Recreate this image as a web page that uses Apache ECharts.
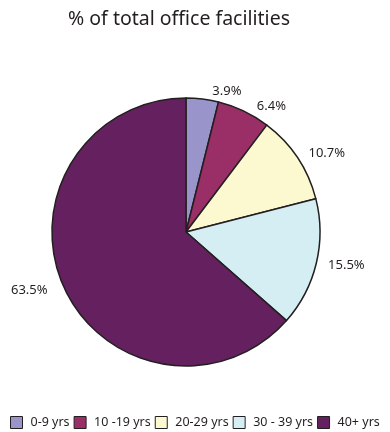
<!DOCTYPE html>
<html><head><meta charset="utf-8">
<script src="https://cdn.jsdelivr.net/npm/echarts@6/dist/echarts.min.js"></script>
<style>html,body{margin:0;padding:0;background:#fff}#c{width:390px;height:432px}</style>
</head><body><div id="c"></div>
<script>
var categories = ['0-9 yrs', '10 -19 yrs', '20-29 yrs', '30 - 39 yrs', '40+ yrs'];
var values = [3.9, 6.4, 10.7, 15.5, 63.5];
var colors = ['#9994CA', '#9A2F68', '#FCF9D0', '#D4EEF3', '#65215F'];
var chart = echarts.init(document.getElementById('c'));
chart.setOption({
  animation: false,
  title: { text: '% of total office facilities', left: 174, textAlign: 'center', top: 4,
    textStyle: { fontFamily: 'Noto Sans', fontSize: 19.5, fontWeight: 'normal', color: '#231F20' } },
  legend: {
    bottom: 3, left: 10, padding: 0, itemWidth: 12, itemHeight: 12, itemGap: 4,
    icon: 'rect',
    itemStyle: { borderColor: '#231F20', borderWidth: 1 },
    textStyle: { fontFamily: 'Noto Sans', fontSize: 12.5, color: '#231F20', padding: [0, 0, 0, 3] },
    data: categories
  },
  series: [{
    type: 'pie', center: [186, 232], radius: 134, startAngle: 90, clockwise: true,
    itemStyle: { borderColor: '#231F20', borderWidth: 1.5 },
    label: { show: true, position: 'outside', overflow: 'none', formatter: function(p){ return p.value.toFixed(1) + '%'; },
      fontFamily: 'Noto Sans', fontSize: 13, color: '#231F20' },
    labelLine: { show: false, length: 8, length2: 4 },
    emphasis: { disabled: true },
    data: categories.map(function(c, i){ return { name: c, value: values[i], itemStyle: { color: colors[i] } }; })
  }]
});
</script></body></html>
